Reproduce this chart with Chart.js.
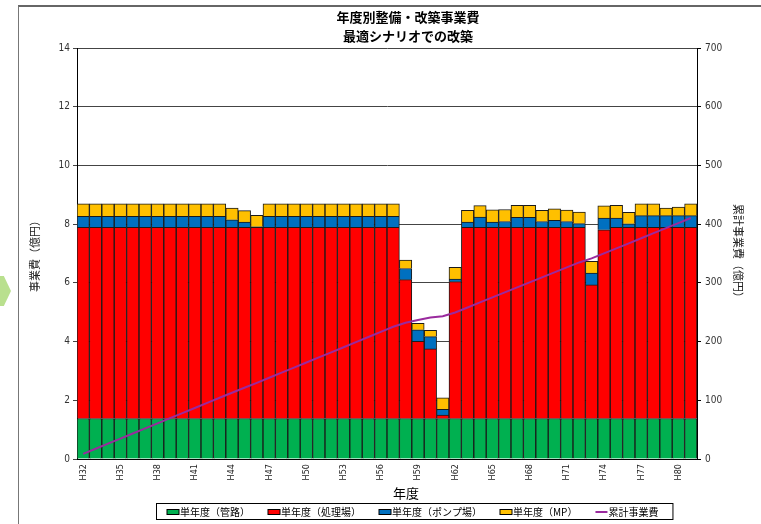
<!DOCTYPE html>
<html>
<head>
<meta charset="utf-8">
<script src="https://cdn.jsdelivr.net/npm/chart.js@4"></script>
<style>
  body { margin: 0; background: #fff; }
  #wrap { position: relative; width: 761px; height: 524px; overflow: hidden; }
  #frame { position: absolute; left: 18px; top: 5px; width: 800px; height: 600px; border-left: 1px solid #777; border-top: 2px solid #666; }
  #arrow { position: absolute; left: 0; top: 276px; width: 11px; height: 30px; background: #b9e08e;
           clip-path: polygon(0 0, 35% 0, 100% 50%, 35% 100%, 0 100%); }
  canvas { position: absolute; left: 0; top: 0; }
</style>
</head>
<body>
<div id="wrap">
  <div id="frame"></div>
  <div id="arrow"></div>
  <canvas id="chart" width="761" height="524"></canvas>
</div>
<script>
const titleLines = ['年度別整備・改築事業費', '最適シナリオでの改築'];
const xTitle = '年度';
const yTitle = '事業費（億円）';
const y2Title = '累計事業費（億円）';

const years = [
    'H32','H33','H34','H35','H36','H37','H38','H39','H40','H41',
    'H42','H43','H44','H45','H46','H47','H48','H49','H50','H51',
    'H52','H53','H54','H55','H56','H57','H58','H59','H60','H61',
    'H62','H63','H64','H65','H66','H67','H68','H69','H70','H71',
    'H72','H73','H74','H75','H76','H77','H78','H79','H80','H81'
];

// 単年度（管路）
const pipes = [
    1.38,1.38,1.38,1.38,1.38,1.38,1.38,1.38,1.38,1.38,
    1.38,1.38,1.38,1.38,1.38,1.38,1.38,1.38,1.38,1.38,
    1.38,1.38,1.38,1.38,1.38,1.38,1.38,1.38,1.38,1.38,
    1.38,1.38,1.38,1.38,1.38,1.38,1.38,1.38,1.38,1.38,
    1.38,1.38,1.38,1.38,1.38,1.38,1.38,1.38,1.38,1.38
];
// 単年度（処理場）
const plants = [
    6.51,6.51,6.51,6.51,6.51,6.51,6.51,6.51,6.51,6.51,
    6.51,6.51,6.51,6.51,6.51,6.51,6.51,6.51,6.51,6.51,
    6.51,6.51,6.51,6.51,6.51,6.51,4.73,2.63,2.37,0.12,
    4.66,6.51,6.51,6.51,6.51,6.51,6.51,6.51,6.51,6.51,
    6.51,4.55,6.43,6.51,6.51,6.51,6.51,6.51,6.51,6.51
];
// 単年度（ポンプ場）
const pumps = [
    0.38,0.38,0.38,0.38,0.38,0.38,0.38,0.38,0.38,0.38,
    0.38,0.38,0.26,0.18,0.02,0.38,0.38,0.38,0.38,0.38,
    0.38,0.38,0.38,0.38,0.38,0.38,0.38,0.39,0.42,0.19,
    0.09,0.18,0.35,0.18,0.20,0.34,0.34,0.20,0.24,0.20,
    0.13,0.40,0.40,0.32,0.12,0.40,0.40,0.40,0.40,0.40
];
// 単年度（MP）
const mp = [
    0.42,0.42,0.42,0.42,0.42,0.42,0.42,0.42,0.42,0.42,
    0.42,0.42,0.40,0.39,0.39,0.42,0.42,0.42,0.42,0.42,
    0.42,0.42,0.42,0.42,0.42,0.42,0.29,0.22,0.21,0.39,
    0.40,0.40,0.39,0.42,0.41,0.41,0.41,0.38,0.39,0.39,
    0.39,0.40,0.41,0.43,0.39,0.40,0.40,0.26,0.29,0.40
];
// 累計事業費
const cumulative = [
    8.7,17.4,26.1,34.8,43.5,52.1,60.8,69.5,78.2,86.9,
    95.6,104.3,112.8,121.3,129.6,138.3,147.0,155.7,164.4,173.1,
    181.7,190.4,199.1,207.8,216.5,225.2,232.0,236.6,241.0,243.0,
    249.6,258.0,266.7,275.2,283.7,292.3,300.9,309.4,317.9,326.4,
    334.8,341.6,350.2,358.8,367.2,375.9,384.6,393.1,401.7,410.4
];

const yTicks = [0, 2, 4, 6, 8, 10, 12, 14];
const y2Ticks = [0, 100, 200, 300, 400, 500, 600, 700];

const jp = '"Noto Sans CJK JP", "Noto Sans", sans-serif';
const narrow = '"Liberation Sans Narrow", "DejaVu Sans Condensed", "Liberation Sans", sans-serif';

function barSet(label, data, color) {
    return {
        type: 'bar', label: label, data: data,
        backgroundColor: color, borderColor: '#1a1a1a', borderWidth: 1,
        barPercentage: 1, categoryPercentage: 1,
        yAxisID: 'y', stack: 's', order: 1
    };
}

const textPlugin = {
    id: 'texts',
    afterDraw(chart) {
        const ctx = chart.ctx;
        ctx.save();
        ctx.fillStyle = '#000';
        ctx.textAlign = 'center';
        ctx.textBaseline = 'middle';
        ctx.font = 'bold 13px ' + jp;
        ctx.fillText(titleLines[0], 408, 17);
        ctx.fillText(titleLines[1], 408, 36);
        ctx.font = '13px ' + jp;
        ctx.fillText(xTitle, 406, 493);

        // legend
        ctx.font = '10px ' + jp;
        ctx.textAlign = 'left';
        let x = 167;
        const y = 512;
        chart.data.datasets.forEach(ds => {
            if (ds.type === 'line') {
                ctx.strokeStyle = ds.borderColor;
                ctx.lineWidth = 2;
                ctx.beginPath();
                ctx.moveTo(x, y);
                ctx.lineTo(x + 12, y);
                ctx.stroke();
            } else {
                ctx.fillStyle = ds.backgroundColor;
                ctx.fillRect(x, y - 2.5, 12, 5);
                ctx.strokeStyle = '#000';
                ctx.lineWidth = 1;
                ctx.strokeRect(x, y - 2.5, 12, 5);
            }
            ctx.fillStyle = '#000';
            ctx.fillText(ds.label, x + 13, y);
            x += 13 + ctx.measureText(ds.label).width + 18;
        });
        ctx.strokeStyle = '#000';
        ctx.lineWidth = 1;
        ctx.strokeRect(156.5, 503.5, x - 18 + 14 - 156, 16);
        ctx.restore();
    }
};

const ctx = document.getElementById('chart').getContext('2d');
new Chart(ctx, {
    data: {
        labels: years,
        datasets: [
            barSet('単年度（管路）', pipes, '#00b050'),
            barSet('単年度（処理場）', plants, '#ff0000'),
            barSet('単年度（ポンプ場）', pumps, '#0070c0'),
            barSet('単年度（MP）', mp, '#ffc000'),
            {
                type: 'line', label: '累計事業費', data: cumulative,
                borderColor: '#9a2a9e', borderWidth: 2, pointRadius: 0,
                tension: 0, yAxisID: 'y2', order: 0
            }
        ]
    },
    options: {
        responsive: false,
        animation: false,
        layout: { padding: { top: 48, bottom: 21, left: 0, right: 0 } },
        plugins: {
            legend: { display: false },
            title: { display: false },
            tooltip: { enabled: false }
        },
        scales: {
            x: {
                stacked: true,
                grid: { display: false, drawTicks: false },
                border: { display: true, color: '#000', width: 1 },
                ticks: {
                    autoSkip: false, maxRotation: 90, minRotation: 90, padding: 5,
                    color: '#222', font: { size: 9, family: narrow },
                    callback: function(val, i) { return i % 3 === 0 ? years[i] : ''; }
                },
                afterFit: scale => { scale.height = 44; }
            },
            y: {
                stacked: true, position: 'left', min: 0, max: 14,
                afterBuildTicks: scale => { scale.ticks = yTicks.map(v => ({ value: v })); },
                grid: { color: '#444', lineWidth: 1, tickLength: 4 },
                border: { display: true, color: '#000', width: 1 },
                ticks: { padding: 3, color: '#333', font: { size: 10, family: narrow } },
                title: {
                    display: true, text: yTitle, color: '#222',
                    font: { size: 11, family: jp }, padding: { top: 28, bottom: 0 }
                },
                afterFit: scale => { scale.width = 77; }
            },
            y2: {
                position: 'right', min: 0, max: 700,
                afterBuildTicks: scale => { scale.ticks = y2Ticks.map(v => ({ value: v })); },
                grid: { drawOnChartArea: false, color: '#000', tickLength: 4 },
                border: { display: true, color: '#000', width: 1 },
                ticks: { padding: 4, color: '#333', font: { size: 10, family: narrow } },
                title: {
                    display: true, text: y2Title, color: '#222',
                    font: { size: 11, family: jp }, padding: { top: 16, bottom: 0 }
                },
                afterFit: scale => { scale.width = 64; }
            }
        }
    },
    plugins: [textPlugin]
});
</script>
</body>
</html>
